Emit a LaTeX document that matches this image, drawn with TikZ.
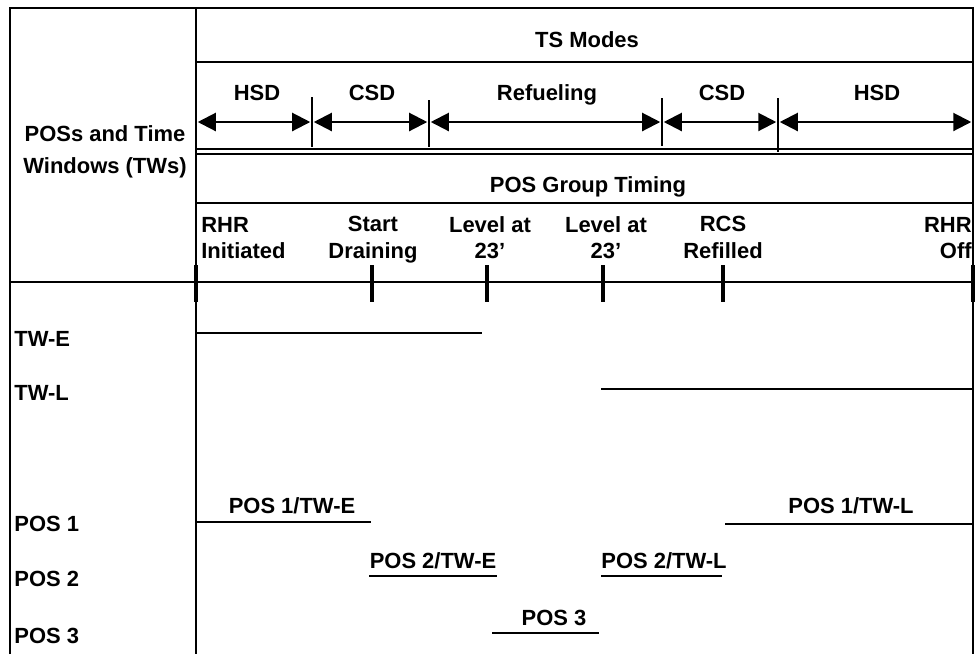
\documentclass[tikz,border=0pt]{standalone}
\usepackage{fontspec}
\setmainfont{Liberation Sans}
\usetikzlibrary{arrows.meta}
\usetikzlibrary{positioning}

\begin{document}
\begin{tikzpicture}[x=0.02cm,y=-0.02cm,
    frame/.style={line width=1.3pt},
    txt/.style={font=\fontsize{12.5}{15}\selectfont\bfseries, inner sep=0pt},
    span/.style={{Triangle[length=0.36cm,width=0.36cm]}-{Triangle[length=0.36cm,width=0.36cm]}, line width=1.2pt, shorten <=1pt, shorten >=1pt},
    sep/.style={line width=1.1pt},
    event/.style={line width=2.6pt},
    bar/.style={line width=1.1pt}]
    \useasboundingbox (0,0) rectangle (975,654);

    % table frame
    \draw[frame] (10,654) -- (10,8) -- (973,8) -- (973,654);
    \draw[frame] (196,8) -- (196,654);
    \draw[frame] (196,62) -- (973,62);
    \draw[frame] (196,149) -- (973,149);
    \draw[line width=0.8pt] (196,154) -- (973,154);
    \draw[frame] (196,203) -- (973,203);

    % headers
    \node[txt, align=center] (head) at (105,152) {POSs and Time\\[3pt]Windows (TWs)};
    \node[txt, anchor=base] (modes) at (587,47) {TS Modes};
    \node[txt, anchor=base] (group) at (588,192) {POS Group Timing};

    % TS modes
    \coordinate (m0) at (196,122);
    \coordinate (m1) at (312,122);
    \coordinate (m2) at (429,122);
    \coordinate (m3) at (662,122);
    \coordinate (m4) at (778,122);
    \coordinate (m5) at (973,122);
    \draw[sep] (312,97) -- (312,147);
    \draw[sep] (429,100) -- (429,147);
    \draw[sep] (662,98) -- (662,146);
    \draw[sep] (778,98) -- (778,152);
    \draw[span] (m0) -- (m1);
    \draw[span] (m1) -- (m2);
    \draw[span] (m2) -- (m3);
    \draw[span] (m3) -- (m4);
    \draw[span] (m4) -- (m5);
    \node[txt, anchor=base] (hsdA) at (257,100) {HSD};
    \node[txt, anchor=base] (csdA) at (372,100) {CSD};
    \node[txt, anchor=base] (refuel) at (547,100) {Refueling};
    \node[txt, anchor=base] (csdB) at (722,100) {CSD};
    \node[txt, anchor=base] (hsdB) at (877,100) {HSD};

    % group timing events
    \coordinate (e0) at (196,282);
    \coordinate (e1) at (372,282);
    \coordinate (e2) at (487,282);
    \coordinate (e3) at (603,282);
    \coordinate (e4) at (723,282);
    \coordinate (e5) at (973,282);
    \draw[frame] (10,282) -- (e5);
    \foreach \e in {e0,e1,e2,e3,e4,e5}
        \draw[event] ([yshift=0.34cm]\e) -- ([yshift=-0.4cm]\e);
    \node[txt, align=left, anchor=north west] (rhrOn) at (201,217) {RHR\\Initiated};
    \node[txt, align=center, anchor=north] (drain) at (373,216) {Start\\Draining};
    \node[txt, align=center, anchor=north] (lvlA) at (490,216) {Level at\\23'};
    \node[txt, align=center, anchor=north] (lvlB) at (606,216) {Level at\\23'};
    \node[txt, align=center, anchor=north] (refill) at (723,216) {RCS\\Refilled};
    \node[txt, align=right, anchor=north east] (rhrOff) at (972,217) {RHR\\Off};

    % time windows and POSs
    \node[txt, anchor=base west] (twe) at (14,346) {TW-E};
    \node[txt, anchor=base west] (twl) at (14,400) {TW-L};
    \node[txt, anchor=base west] (pos1) at (14,531) {POS 1};
    \node[txt, anchor=base west] (pos2) at (14,586) {POS 2};
    \node[txt, anchor=base west] (pos3) at (14,643) {POS 3};

    \draw[bar] (196,333) -- (482,333);
    \draw[bar] (601,389) -- (973,389);

    \draw[bar] (196,522) -- (371,522);
    \node[txt, anchor=base] (p1e) at (292,513) {POS 1/TW-E};
    \draw[bar] (369,576) -- (497,576);
    \node[txt, anchor=base] (p2e) at (433,568) {POS 2/TW-E};
    \draw[bar] (601,576) -- (722,576);
    \node[txt, anchor=base] (p2l) at (664,568) {POS 2/TW-L};
    \draw[bar] (725,524) -- (973,524);
    \node[txt, anchor=base] (p1l) at (851,513) {POS 1/TW-L};
    \draw[bar] (492,633) -- (599,633);
    \node[txt, anchor=base] (p3) at (554,625) {POS 3};
\end{tikzpicture}
\end{document}
